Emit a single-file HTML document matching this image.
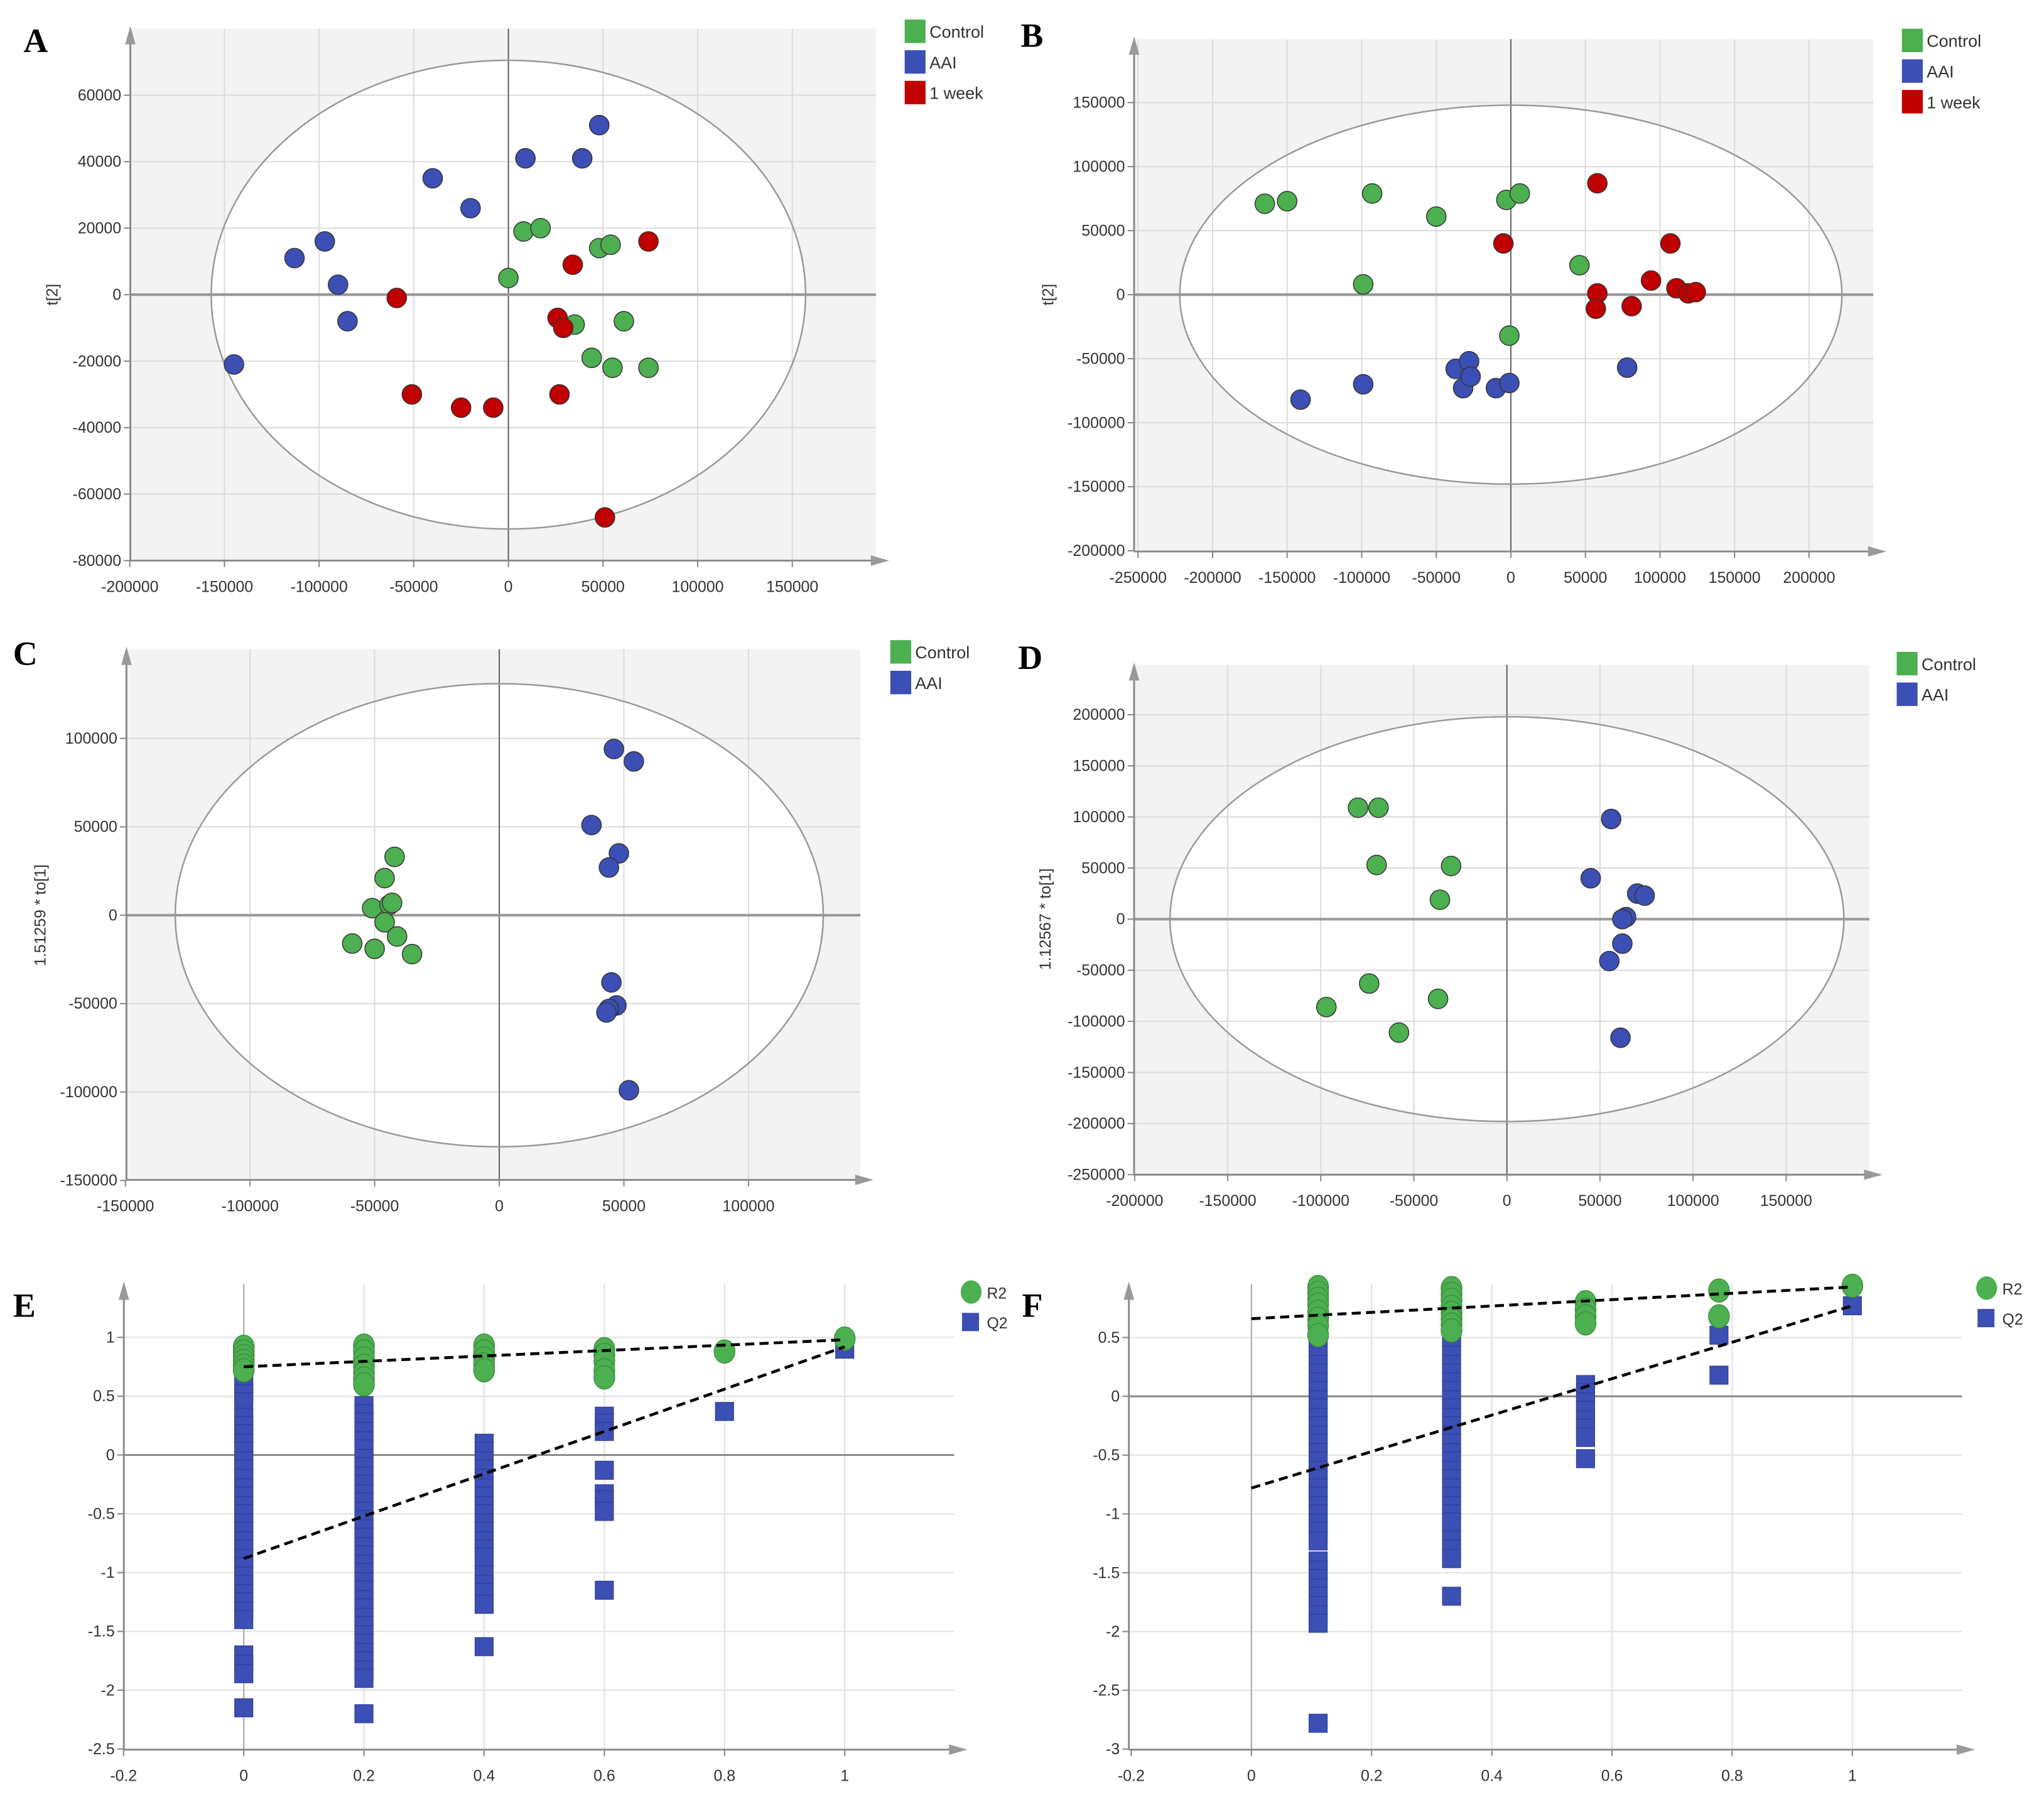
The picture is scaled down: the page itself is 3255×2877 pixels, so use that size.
<!DOCTYPE html>
<html><head><meta charset="utf-8"><style>
html,body{margin:0;padding:0;background:#fff;}
svg{display:block;}
text{font-family:"Liberation Sans",sans-serif;}
</style></head><body>
<svg id="fig" xmlns="http://www.w3.org/2000/svg" width="3255" height="2877" viewBox="0 0 1568 1386" preserveAspectRatio="none"></svg>
<script>
// ---- Panel A data (x in thousands, y in thousands)
const aCtrlX=[0,8,17,48,54,35,61,44,55,74];
const aCtrlY=[5,19,20,14,15,-9,-8,-19,-22,-22];
const aAaiX=[-145,-113,-97,-90,-85,-40,-20,9,39,48];
const aAaiY=[-21,11,16,3,-8,35,26,41,41,51];
const aWkX=[-59,74,34,26,29,-51,-25,-8,27,51];
const aWkY=[-1,16,9,-7,-10,-30,-34,-34,-30,-67];
const aXTicks=[-200000,-150000,-100000,-50000,0,50000,100000,150000];
const aYTicks=[60000,40000,20000,0,-20000,-40000,-60000,-80000];
// ---- Panel B
const bCtrlX=[-165,-150,-93,-50,-3,6,-99,46,-1];
const bCtrlY=[71,73,79,61,74,79,8,23,-32];
const bAaiX=[-141,-99,-37,-28,-32,-27,-10,-1,78];
const bAaiY=[-82,-70,-58,-52,-73,-64,-73,-69,-57];
const bWkX=[58,-5,107,58,57,94,81,111,119,124];
const bWkY=[87,40,40,1,-11,11,-9,5,1,2];
const bXTicks=[-250000,-200000,-150000,-100000,-50000,0,50000,100000,150000,200000];
const bYTicks=[150000,100000,50000,0,-50000,-100000,-150000,-200000];
// ---- Panel C
const cCtrlX=[-42,-46,-51,-44,-43,-46,-41,-59,-50,-35];
const cCtrlY=[33,21,4,6,7,-4,-12,-16,-19,-22];
const cAaiX=[46,54,37,48,44,45,47,44,43,52];
const cAaiY=[94,87,51,35,27,-38,-51,-53,-55,-99];
const cXTicks=[-150000,-100000,-50000,0,50000,100000];
const cYTicks=[100000,50000,0,-50000,-100000,-150000];
// ---- Panel D
const dCtrlX=[-80,-69,-70,-30,-36,-74,-97,-37,-58];
const dCtrlY=[109,109,53,52,19,-63,-86,-78,-111];
const dAaiX=[56,45,70,74,64,62,62,55,61];
const dAaiY=[98,40,25,23,2,0,-24,-41,-116];
const dXTicks=[-200000,-150000,-100000,-50000,0,50000,100000,150000];
const dYTicks=[200000,150000,100000,50000,0,-50000,-100000,-150000,-200000,-250000];
// ---- Panel E
const eR2X=[0,0,0,0,0,0,0.2,0.2,0.2,0.2,0.2,0.2,0.2,0.4,0.4,0.4,0.4,0.4,0.6,0.6,0.6,0.6,0.6,0.8,1];
const eR2Y=[0.92,0.88,0.84,0.8,0.76,0.72,0.93,0.88,0.82,0.76,0.7,0.65,0.6,0.93,0.88,0.82,0.77,0.72,0.9,0.85,0.8,0.72,0.66,0.88,0.99];
const eQ2Col0=[0.6,0.52,0.45,0.32,0.25,0.18,0.1,0.03,-0.05,-0.12,-0.2,-0.28,-0.35,-0.43,-0.5,-0.58,-0.65,-0.73,-0.8,-0.88,-0.95,-1.03,-1.1,-1.18,-1.25,-1.33,-1.4,-1.7,-1.78,-1.86,-2.15];
const eQ2Col2=[0.42,0.35,0.28,0.2,0.12,0.05,-0.03,-0.1,-0.18,-0.25,-0.33,-0.4,-0.48,-0.55,-0.63,-0.7,-0.78,-0.85,-0.93,-1,-1.08,-1.15,-1.23,-1.3,-1.38,-1.45,-1.53,-1.6,-1.68,-1.75,-1.83,-1.9,-2.2];
const eQ2Col4=[0.1,0.03,-0.05,-0.12,-0.2,-0.28,-0.35,-0.43,-0.5,-0.58,-0.65,-0.73,-0.8,-0.87,-1.02,-1.1,-1.17,-1.27,-1.63];
const eQ2Col6=[0.33,0.27,0.2,-0.13,-0.33,-0.38,-0.48,-1.15];
const eQ2Other=[0.37,0.9];
const eQ2OtherX=[0.8,1];
const eR2Line=[0.75,0.98];
const eQ2Line=[-0.88,0.92];
const eXTicks=[-0.2,0,0.2,0.4,0.6,0.8,1];
const eYTicks=[1,0.5,0,-0.5,-1,-1.5,-2,-2.5];
// ---- Panel F
const fR2X=[0.111,0.111,0.111,0.111,0.111,0.111,0.111,0.111,0.333,0.333,0.333,0.333,0.333,0.333,0.333,0.333,0.556,0.556,0.556,0.556,0.778,0.778,1];
const fR2Y=[0.93,0.88,0.83,0.78,0.72,0.66,0.6,0.52,0.92,0.87,0.82,0.76,0.71,0.66,0.61,0.56,0.8,0.74,0.68,0.62,0.9,0.68,0.94];
const fQ2Col1=[0.57,0.5,0.42,0.35,0.27,0.2,0.12,0.05,-0.03,-0.1,-0.18,-0.25,-0.33,-0.4,-0.48,-0.55,-0.63,-0.7,-0.78,-0.85,-0.93,-1,-1.08,-1.15,-1.23,-1.4,-1.48,-1.55,-1.63,-1.7,-1.78,-1.86,-1.93,-2.78];
const fQ2Col3=[0.5,0.42,0.35,0.27,0.2,0.12,0.05,-0.03,-0.1,-0.18,-0.25,-0.33,-0.4,-0.48,-0.55,-0.63,-0.7,-0.78,-0.85,-0.93,-1,-1.07,-1.22,-1.3,-1.38,-1.7];
const fQ2Col5=[0.1,0.03,-0.05,-0.12,-0.2,-0.27,-0.35,-0.53];
const fQ2Other=[0.52,0.18,0.77];
const fQ2OtherX=[0.778,0.778,1];
const fR2Line=[0.66,0.93];
const fQ2Line=[-0.78,0.77];
const fXTicks=[-0.2,0,0.2,0.4,0.6,0.8,1];
const fYTicks=[0.5,0,-0.5,-1,-1.5,-2,-2.5,-3];

const NS='http://www.w3.org/2000/svg';
const svg=document.getElementById('fig');
const GREEN='#4caf50',BLUE='#3c4fb4',RED='#c00000';
function mk(tag,attrs,parent){const e=document.createElementNS(NS,tag);for(const k in attrs)e.setAttribute(k,attrs[k]);(parent||svg).appendChild(e);return e;}
function txt(s,x,y,size,anchor,parent,extra){const t=mk('text',Object.assign({x:x,y:y,'font-size':size,'text-anchor':anchor||'start',fill:'#333'},extra||{}),parent);t.textContent=s;return t;}
function fmt(v){return String(Math.round(v*10)/10);}

function axes(p,g){
  mk('line',{x1:p.L,y1:p.B,x2:p.L,y2:p.T,stroke:'#888','stroke-width':1.4},g);
  mk('polygon',{points:(p.L-4)+','+(p.T+12)+' '+(p.L+4)+','+(p.T+12)+' '+p.L+','+(p.T-2),fill:'#999'},g);
  mk('line',{x1:p.L,y1:p.B,x2:p.R,y2:p.B,stroke:'#888','stroke-width':1.4},g);
  mk('polygon',{points:(p.R-12)+','+(p.B-4)+' '+(p.R-12)+','+(p.B+4)+' '+(p.R+2)+','+p.B,fill:'#999'},g);
}
function panelLabel(id,x,y,g){
  const lab=txt(id.toUpperCase(),x,y,26,'start',g,{style:'font-family:"Liberation Serif",serif;font-weight:bold',fill:'#000'});
  
  
}

function scatterPanel(p,id){
  const g=mk('g',{});
  
  
  const X=v=>p.x0+v/p.xu*p.xs, Y=v=>p.y0-v/p.yu*p.ys;
  mk('rect',{x:p.L,y:p.T,width:p.R-p.L-8,height:p.B-p.T,fill:'#f3f3f3'},g);
  mk('ellipse',{cx:X(0),cy:Y(0),rx:p.erx/p.xu*p.xs,ry:p.ery/p.yu*p.ys,fill:'#fff'},g);
  p.xt.forEach(v=>{if(X(v)>p.L+2)mk('line',{x1:X(v),y1:p.T,x2:X(v),y2:p.B,stroke:'#dcdcdc','stroke-width':1},g);});
  p.yt.forEach(v=>{if(Y(v)<p.B-2)mk('line',{x1:p.L,y1:Y(v),x2:p.R-8,y2:Y(v),stroke:'#dcdcdc','stroke-width':1},g);});
  mk('line',{x1:X(0),y1:p.T,x2:X(0),y2:p.B,stroke:'#666','stroke-width':1},g);
  mk('line',{x1:p.L,y1:Y(0),x2:p.R-8,y2:Y(0),stroke:'#999','stroke-width':2},g);
  mk('ellipse',{cx:X(0),cy:Y(0),rx:p.erx/p.xu*p.xs,ry:p.ery/p.yu*p.ys,fill:'none',stroke:'#999','stroke-width':1.2},g);
  axes(p,g);
  p.xt.forEach(v=>{mk('line',{x1:X(v),y1:p.B,x2:X(v),y2:p.B+5,stroke:'#888'},g);const t=txt(String(v),X(v),p.B+24,12,'middle',g);});
  p.yt.forEach(v=>{mk('line',{x1:p.L-5,y1:Y(v),x2:p.L,y2:Y(v),stroke:'#888'},g);const t=txt(String(v),p.L-7,Y(v)+4,12,'end',g);});
  const yt=txt(p.ytitle,0,0,12,'middle',g,{transform:'translate('+p.ytx+','+Y(0)+') rotate(-90)'});
  
  
  p.series.forEach(s=>{
    s.xs.forEach((xv,i)=>{
      const c=mk('circle',{cx:X(xv*1000),cy:Y(s.ys[i]*1000),r:7.5,fill:s.c,stroke:'#333','stroke-width':0.7},g);
      
      
    });
  });
  panelLabel(id,p.labx,p.laby,g);
  p.series.forEach((s,i)=>{
    const r=mk('rect',{x:p.lgx,y:p.lgy+i*23.5,width:16,height:18,fill:s.c},g);
    
    
    const t=txt(s.label,p.lgx+19,p.lgy+i*23.5+14,13,'start',g);
    
    
  });
}

scatterPanel({L:100,R:680,T:22,B:430,x0:390,y0:226,xu:50000,xs:72.6,yu:20000,ys:51,erx:157000,ery:70500,xt:aXTicks,yt:aYTicks,ytitle:'t[2]',ytx:44,labx:18,laby:40,lgx:694,lgy:15,
  series:[{n:'control',label:'Control',c:GREEN,xs:aCtrlX,ys:aCtrlY},{n:'aai',label:'AAI',c:BLUE,xs:aAaiX,ys:aAaiY},{n:'week',label:'1 week',c:RED,xs:aWkX,ys:aWkY}]},'a');
scatterPanel({L:870,R:1445,T:30,B:423,x0:1159,y0:226,xu:50000,xs:57.2,yu:50000,ys:49.1,erx:222000,ery:148000,xt:bXTicks,yt:bYTicks,ytitle:'t[2]',ytx:808,labx:783,laby:36,lgx:1459,lgy:22,
  series:[{n:'control',label:'Control',c:GREEN,xs:bCtrlX,ys:bCtrlY},{n:'aai',label:'AAI',c:BLUE,xs:bAaiX,ys:bAaiY},{n:'week',label:'1 week',c:RED,xs:bWkX,ys:bWkY}]},'b');
scatterPanel({L:97,R:668,T:498,B:905,x0:383,y0:702,xu:50000,xs:95.6,yu:50000,ys:67.8,erx:130000,ery:131000,xt:cXTicks,yt:cYTicks,ytitle:'1.51259 * to[1]',ytx:35,labx:10,laby:510,lgx:683,lgy:491,
  series:[{n:'control',label:'Control',c:GREEN,xs:cCtrlX,ys:cCtrlY},{n:'aai',label:'AAI',c:BLUE,xs:cAaiX,ys:cAaiY}]},'c');
scatterPanel({L:870,R:1442,T:510,B:901,x0:1156,y0:705,xu:50000,xs:71.4,yu:50000,ys:39.2,erx:181000,ery:198000,xt:dXTicks,yt:dYTicks,ytitle:'1.12567 * to[1]',ytx:806,labx:781,laby:513,lgx:1455,lgy:500,
  series:[{n:'control',label:'Control',c:GREEN,xs:dCtrlX,ys:dCtrlY},{n:'aai',label:'AAI',c:BLUE,xs:dAaiX,ys:dAaiY}]},'d');

function permPanel(p,id){
  const g=mk('g',{});
  
  
  const X=v=>p.x0+v/0.2*p.xs, Y=v=>p.y0-v/0.5*p.ys;
  p.xt.forEach(v=>{if(X(v)>p.L+2)mk('line',{x1:X(v),y1:p.T,x2:X(v),y2:p.B,stroke:'#e2e2e2'},g);});
  p.yt.forEach(v=>{if(Y(v)<p.B-2)mk('line',{x1:p.L,y1:Y(v),x2:p.R-8,y2:Y(v),stroke:'#e2e2e2'},g);});
  mk('line',{x1:X(0),y1:p.T,x2:X(0),y2:p.B,stroke:'#aaa'},g);
  mk('line',{x1:p.L,y1:Y(0),x2:p.R-8,y2:Y(0),stroke:'#888','stroke-width':1.4},g);
  axes(p,g);
  p.xt.forEach(v=>{mk('line',{x1:X(v),y1:p.B,x2:X(v),y2:p.B+5,stroke:'#888'},g);const t=txt(fmt(v),X(v),p.B+24,12,'middle',g);});
  p.yt.forEach(v=>{mk('line',{x1:p.L-5,y1:Y(v),x2:p.L,y2:Y(v),stroke:'#888'},g);const t=txt(fmt(v),p.L-7,Y(v)+4,12,'end',g);});
  p.q2.forEach(col=>{
    col.ys.forEach((yv,i)=>{
      const xv=col.xs?col.xs[i]:col.x;
      const r=mk('rect',{x:X(xv)-7,y:Y(yv)-7,width:14,height:14,fill:BLUE,stroke:'#2c3a90','stroke-width':0.5},g);
      
      
    });
  });
  p.r2x.forEach((xv,i)=>{
    const c=mk('ellipse',{cx:X(xv),cy:Y(p.r2y[i]),rx:8,ry:9,fill:GREEN,stroke:'#3a8a3a','stroke-width':0.6},g);
    
    
  });
  const l1=mk('line',{x1:X(0),y1:Y(p.r2l[0]),x2:X(1),y2:Y(p.r2l[1]),stroke:'#000','stroke-width':2.2,'stroke-dasharray':'7,4'},g);
  
  
  const l2=mk('line',{x1:X(0),y1:Y(p.q2l[0]),x2:X(1),y2:Y(p.q2l[1]),stroke:'#000','stroke-width':2.2,'stroke-dasharray':'7,4'},g);
  
  
  panelLabel(id,p.labx,p.laby,g);
  const lc=mk('ellipse',{cx:p.lgx+8,cy:p.lgy,rx:8,ry:9,fill:GREEN},g);
  
  
  const t1=txt('R2',p.lgx+20,p.lgy+5,12,'start',g);
  
  
  const ls=mk('rect',{x:p.lgx+1,y:p.lgy+16,width:13,height:14,fill:BLUE},g);
  
  
  const t2=txt('Q2',p.lgx+20,p.lgy+28,12,'start',g);
  
  
}
permPanel({L:95,R:740,T:985,B:1342,x0:187,y0:1116,xs:92.2,ys:45.1,xt:eXTicks,yt:eYTicks,labx:10,laby:1010,lgx:737,lgy:991,
  r2x:eR2X,r2y:eR2Y,r2l:eR2Line,q2l:eQ2Line,
  q2:[{x:0,ys:eQ2Col0},{x:0.2,ys:eQ2Col2},{x:0.4,ys:eQ2Col4},{x:0.6,ys:eQ2Col6},{xs:eQ2OtherX,ys:eQ2Other}]},'e');
permPanel({L:866,R:1513,T:985,B:1342,x0:960,y0:1071,xs:92.2,ys:45.1,xt:fXTicks,yt:fYTicks,labx:784,laby:1010,lgx:1516,lgy:988,
  r2x:fR2X,r2y:fR2Y,r2l:fR2Line,q2l:fQ2Line,
  q2:[{x:0.111,ys:fQ2Col1},{x:0.333,ys:fQ2Col3},{x:0.556,ys:fQ2Col5},{xs:fQ2OtherX,ys:fQ2Other}]},'f');
</script>
</body></html>
